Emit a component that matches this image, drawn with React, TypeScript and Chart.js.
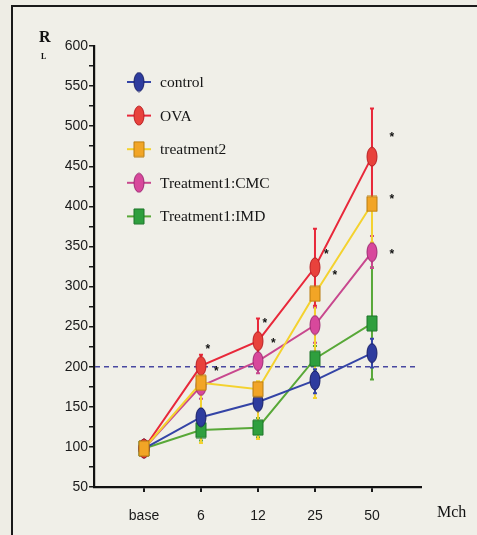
import React, { useEffect, useRef } from "react";
import { Chart, registerables } from "chart.js";
Chart.register(...registerables);

// ---- data ----
const categories = ["base", "6", "12", "25", "50"];
const seriesNames = ["control", "OVA", "treatment2", "Treatment1:CMC", "Treatment1:IMD"];
const controlValues = [98, 137, 156, 183, 217];
const ovaValues = [98, 201, 232, 324, 462];
const treatment2Values = [98, 180, 172, 291, 403];
const cmcValues = [98, 176, 207, 252, 343];
const imdValues = [98, 121, 124, 210, 254];

const controlErrUp = [0, 10, 10, 14, 18];
const controlErrDown = [0, 10, 10, 16, 18];
const ovaErrUp = [0, 14, 28, 48, 60];
const ovaErrDown = [0, 14, 28, 48, 60];
const treatment2ErrUp = [0, 8, 10, 40, 62];
const treatment2ErrDown = [0, 75, 62, 130, 48];
const cmcErrUp = [0, 15, 15, 22, 20];
const cmcErrDown = [0, 16, 15, 22, 20];
const imdErrUp = [0, 13, 12, 16, 70];
const imdErrDown = [0, 13, 12, 16, 70];

const referenceValue = 200;
const yTickValues = [50, 600];
const starX = [1.12, 1.27, 2.12, 2.27, 3.2, 3.35, 4.35, 4.35, 4.35];
const starY = [225, 198, 258, 232, 343, 317, 489, 412, 344];

// ---- styles ----
const lineColors = ["#3444a6", "#e8283a", "#f4d22e", "#c8488e", "#58a838"];
const markerFills = ["#2e3c9e", "#e8423c", "#f2a526", "#d8489c", "#2f9f3e"];
const markerStrokes = ["#1a2066", "#b81e22", "#b87c10", "#9c2a72", "#1c7428"];
const markerShapes = ["ellipse", "ellipse", "rect", "ellipse", "rect"];

function makeMarker(shape: string, fill: string, stroke: string): HTMLCanvasElement {
  const c = document.createElement("canvas");
  const w = 12;
  const h = shape === "ellipse" ? 21 : 17;
  c.width = w;
  c.height = h;
  const ctx = c.getContext("2d")!;
  ctx.fillStyle = fill;
  ctx.strokeStyle = stroke;
  ctx.lineWidth = 1;
  ctx.beginPath();
  if (shape === "ellipse") {
    ctx.ellipse(w / 2, h / 2, w / 2 - 1, h / 2 - 1, 0, 0, Math.PI * 2);
  } else {
    ctx.rect(1, 1, w - 2, h - 2);
  }
  ctx.fill();
  ctx.stroke();
  return c;
}

export default function App() {
  const ref = useRef<HTMLCanvasElement>(null);

  useEffect(() => {
    const values = [controlValues, ovaValues, treatment2Values, cmcValues, imdValues];
    const errUp = [controlErrUp, ovaErrUp, treatment2ErrUp, cmcErrUp, imdErrUp];
    const errDown = [controlErrDown, ovaErrDown, treatment2ErrDown, cmcErrDown, imdErrDown];
    const markers = markerShapes.map((s, i) => makeMarker(s, markerFills[i], markerStrokes[i]));
    const orders = [1, 0, -1, 2, 3];

    const datasets = seriesNames.map((name, i) => ({
      label: name,
      data: values[i].map((v, j) => ({ x: j, y: v })),
      borderColor: lineColors[i],
      backgroundColor: markerFills[i],
      borderWidth: 2,
      pointStyle: markers[i] as any,
      pointRadius: 8,
      order: orders[i],
      tension: 0,
    }));

    const extras = {
      id: "extras",
      beforeDatasetsDraw(chart: any) {
        const ctx = chart.ctx;
        const xs = chart.scales.x;
        const ys = chart.scales.y;
        ctx.save();
        ctx.strokeStyle = "#4848a0";
        ctx.lineWidth = 1.6;
        ctx.setLineDash([5, 4]);
        ctx.beginPath();
        const ry = ys.getPixelForValue(referenceValue);
        ctx.moveTo(chart.chartArea.left + 1, ry);
        ctx.lineTo(chart.chartArea.right - 3, ry);
        ctx.stroke();
        ctx.setLineDash([]);
        for (let i = values.length - 1; i >= 0; i--) {
          ctx.strokeStyle = lineColors[i];
          ctx.lineWidth = 2;
          values[i].forEach((v, j) => {
            const up = errUp[i][j];
            const dn = errDown[i][j];
            if (!up && !dn) return;
            const px = xs.getPixelForValue(j);
            const top = ys.getPixelForValue(v + up);
            const bot = ys.getPixelForValue(v - dn);
            ctx.beginPath();
            ctx.moveTo(px, top);
            ctx.lineTo(px, bot);
            ctx.moveTo(px - 2, top);
            ctx.lineTo(px + 2, top);
            ctx.moveTo(px - 2, bot);
            ctx.lineTo(px + 2, bot);
            ctx.stroke();
          });
        }
        ctx.restore();
      },
      afterDraw(chart: any) {
        const ctx = chart.ctx;
        const xs = chart.scales.x;
        const ys = chart.scales.y;
        const area = chart.chartArea;
        ctx.save();
        ctx.fillStyle = "#111";
        ctx.font = "bold 12px 'Liberation Sans', Arial, sans-serif";
        ctx.textAlign = "center";
        ctx.textBaseline = "middle";
        starX.forEach((sx, k) => {
          ctx.fillText("*", xs.getPixelForValue(sx), ys.getPixelForValue(starY[k]) + 3);
        });
        const lx = area.left + 33;
        const ly0 = area.top + 36;
        const step = 33.6;
        seriesNames.forEach((name, i) => {
          const cy = ly0 + i * step;
          ctx.strokeStyle = lineColors[i];
          ctx.lineWidth = 2;
          ctx.beginPath();
          ctx.moveTo(lx, cy);
          ctx.lineTo(lx + 24, cy);
          ctx.stroke();
          const m = markers[i];
          ctx.drawImage(m, lx + 12 - m.width / 2, cy - m.height / 2);
          ctx.fillStyle = "#161616";
          ctx.font = "15.5px 'Liberation Serif', 'Times New Roman', serif";
          ctx.textAlign = "left";
          ctx.textBaseline = "middle";
          ctx.fillText(name, lx + 33, cy + 1);
        });
        ctx.fillStyle = "#111";
        ctx.textAlign = "left";
        ctx.textBaseline = "alphabetic";
        ctx.font = "bold 16px 'Liberation Serif', serif";
        ctx.fillText("R", 39, 42);
        ctx.font = "bold 8px 'Liberation Serif', serif";
        ctx.fillText("L", 41, 59);
        ctx.font = "16px 'Liberation Serif', serif";
        ctx.fillText("Mch", 437, 517);
        ctx.restore();
      },
    };

    const chart = new Chart(ref.current!, {
      type: "line",
      data: { datasets },
      options: {
        animation: false,
        responsive: false,
        layout: { padding: { left: 0, top: 46, right: 56, bottom: 0 } },
        plugins: { legend: { display: false }, tooltip: { enabled: false } },
        scales: {
          x: {
            type: "linear",
            min: -0.877,
            max: 4.86,
            afterFit: (s: any) => {
              s.height = 48;
            },
            afterBuildTicks: (s: any) => {
              s.ticks = categories.map((_, j) => ({ value: j }));
            },
            ticks: {
              callback: (v: any) => categories[v as number] ?? "",
              color: "#1a1a1a",
              font: { family: "'Liberation Sans', Arial, sans-serif", size: 14 },
              padding: 16,
              maxRotation: 0,
              autoSkip: false,
            },
            grid: { drawOnChartArea: false, drawTicks: true, tickLength: 5, color: "#1a1a1a", lineWidth: 2 },
            border: { display: true, color: "#111", width: 2.2 },
          },
          y: {
            type: "linear",
            min: yTickValues[0],
            max: yTickValues[1],
            afterFit: (s: any) => {
              s.width = 94;
            },
            ticks: {
              stepSize: 25,
              callback: (v: any) => ((v as number) % 50 === 0 ? String(v) : ""),
              color: "#1a1a1a",
              font: { family: "'Liberation Sans', Arial, sans-serif", size: 14 },
              padding: 1,
              autoSkip: false,
            },
            grid: { drawOnChartArea: false, drawTicks: true, tickLength: 5, color: "#1a1a1a", lineWidth: 1.5 },
            border: { display: true, color: "#111", width: 2.2 },
          },
        },
      },
      plugins: [extras],
    });
    return () => chart.destroy();
  }, []);

  return (
    <div
      style={{
        position: "fixed",
        left: 0,
        top: 0,
        width: 477,
        height: 535,
        background: "#eeede5",
        overflow: "hidden",
      }}
    >
      <div
        style={{
          position: "absolute",
          left: 11,
          top: 5,
          width: 500,
          height: 560,
          borderLeft: "2.5px solid #1a1a1a",
          borderTop: "2.5px solid #1a1a1a",
          background: "#f0efe8",
        }}
      />
      <canvas ref={ref} width={477} height={535} style={{ position: "absolute", left: 0, top: 0, display: "block" }} />
    </div>
  );
}
